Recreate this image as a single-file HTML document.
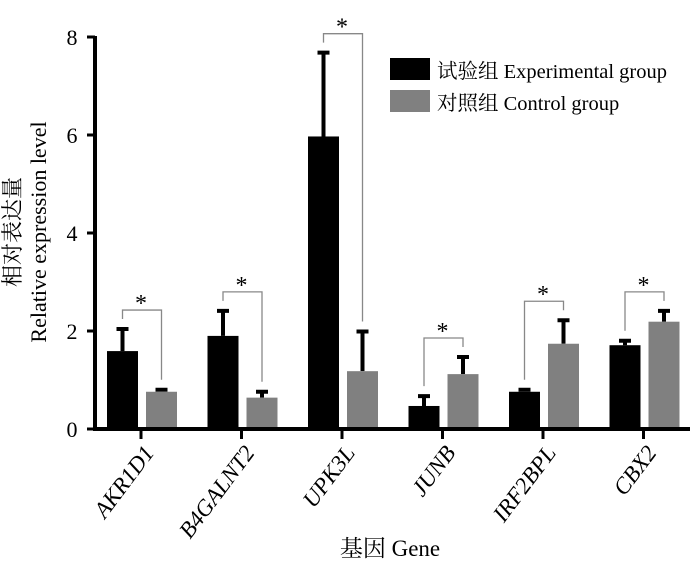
<!DOCTYPE html>
<html><head><meta charset="utf-8"><style>
html,body{margin:0;padding:0;background:#fff;}
svg{display:block;font-family:"Liberation Serif","Noto Serif CJK SC",serif;}
</style></head><body>
<svg id="chart" width="700" height="568" viewBox="0 0 700 568"></svg>
<script>
const genes = ["AKR1D1","B4GALNT2","UPK3L","JUNB","IRF2BPL","CBX2"];
const expValues = [1.59, 1.90, 5.97, 0.47, 0.76, 1.71];
const expErrors = [0.45, 0.51, 1.71, 0.20, 0.04, 0.09];
const ctlValues = [0.76, 0.64, 1.18, 1.12, 1.74, 2.19];
const ctlErrors = [0.04, 0.12, 0.81, 0.35, 0.48, 0.22];
const yTicks = [0, 2, 4, 6, 8];

const NS = "http://www.w3.org/2000/svg";
const svg = document.getElementById('chart');
function el(tag, attrs, parent){const e=document.createElementNS(NS,tag);for(const k in attrs)e.setAttribute(k,attrs[k]);(parent||svg).appendChild(e);return e;}
const y0=429, yTop=37, yMax=8;
function yScale(v){return y0-(v/yMax)*(y0-yTop);}
function xCenter(i){return 141+i*100.5;}

yTicks.forEach(t=>{
  const tk=el('line',{x1:87,x2:95,y1:yScale(t),y2:yScale(t),stroke:'#000','stroke-width':3});
  
  
  const lb=el('text',{x:72,y:yScale(t)+8,'text-anchor':'middle','font-size':22});
  lb.textContent=t;
  
  
});

genes.forEach((g,i)=>{
  const c=xCenter(i);
  const bx=c-34, gx=c+5, w=31;
  const yb=yScale(expValues[i]), yg=yScale(ctlValues[i]);
  const ybe=yScale(expValues[i]+expErrors[i]), yge=yScale(ctlValues[i]+ctlErrors[i]);
  const eb=el('path',{d:`M${bx+w/2} ${yb} V${ybe} M${bx+w/2-6} ${ybe} H${bx+w/2+6}`,stroke:'#000','stroke-width':4,fill:'none'});
  
  
  const eg=el('path',{d:`M${gx+w/2} ${yg} V${yge} M${gx+w/2-6} ${yge} H${gx+w/2+6}`,stroke:'#000','stroke-width':4,fill:'none'});
  
  
  const rb=el('rect',{x:bx,y:yb,width:w,height:y0-yb,fill:'#000'});
  
  
  const rg=el('rect',{x:gx,y:yg,width:w,height:y0-yg,fill:'#808080'});
  
  
  const l1=ybe-10, l2=yge-10, top=Math.min(l1,l2)-9;
  const br=el('path',{d:`M${bx+w/2} ${l1} V${top} H${gx+w/2} V${l2}`,stroke:'#888','stroke-width':1.3,fill:'none'});
  
  
  const st=el('text',{x:c,y:top+1,'text-anchor':'middle','font-size':24});
  st.textContent='*';
  
  
  const xt=el('line',{x1:c,x2:c,y1:y0,y2:y0+10,stroke:'#000','stroke-width':3});
  
  
  const ax0=c+14, ay0=y0+24;
  const xl=el('text',{x:ax0,y:ay0,'text-anchor':'end','font-size':23,'font-style':'italic',transform:`rotate(-53 ${ax0} ${ay0})`});
  xl.textContent=g;
  
  
});

const ax=el('path',{d:`M95 ${yTop-1} V${y0} H690`,stroke:'#000','stroke-width':4,fill:'none'});



const lg=el('g',{});


el('rect',{x:390,y:58,width:40,height:22,fill:'#000'},lg);
const t1=el('text',{x:437,y:78,'font-size':20.5},lg); t1.textContent='试验组 Experimental group';


el('rect',{x:390,y:90,width:40,height:22,fill:'#808080'},lg);
const t2=el('text',{x:437,y:110,'font-size':20.5},lg); t2.textContent='对照组 Control group';



const yt1=el('text',{x:20,y:232,'text-anchor':'middle','font-size':22,transform:'rotate(-90 20 232)'});
yt1.textContent='相对表达量';


const yt2=el('text',{x:46,y:232,'text-anchor':'middle','font-size':22,transform:'rotate(-90 46 232)'});
yt2.textContent='Relative expression level';


const xt=el('text',{x:390,y:556,'text-anchor':'middle','font-size':23});
xt.textContent='基因 Gene';


</script>
</body></html>
